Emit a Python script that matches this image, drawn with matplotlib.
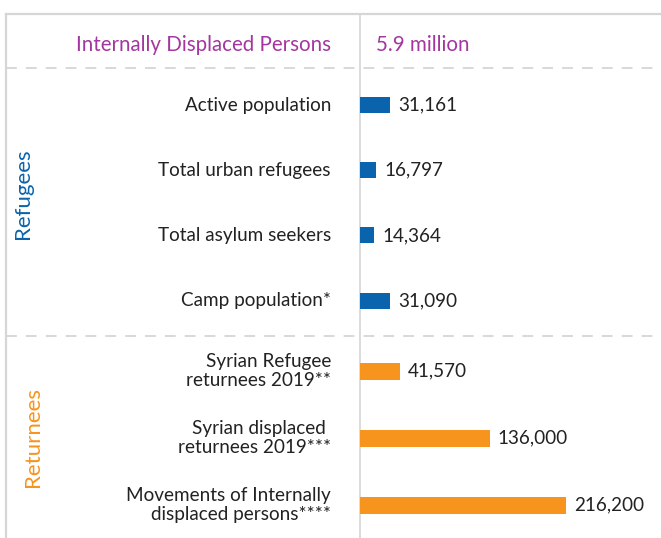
import matplotlib.pyplot as plt

# data
refugee_labels = ['Active population', 'Total urban refugees',
                  'Total asylum seekers', 'Camp population*']
refugee_values = [31161, 16797, 14364, 31090]
returnee_labels = ['Syrian Refugee\nreturnees 2019**',
                   'Syrian displaced \nreturnees 2019***',
                   'Movements of Internally\ndisplaced persons****']
returnee_values = [41570, 136000, 216200]
header_label = 'Internally Displaced Persons'
header_value = '5.9 million'

BLUE = '#0a64ad'
ORANGE = '#f7941d'
PURPLE = '#a3369f'
GRID = '#d6d6d6'
TEXT = '#222222'

W, H = 661, 538
SPLIT = 360

plt.rcParams['font.family'] = ['Lato', 'DejaVu Sans']

fig = plt.figure(figsize=(W / 100, H / 100), dpi=100)

# frame axes in pixel units
frame = fig.add_axes([0, 0, 1, 1])
frame.set_xlim(0, W)
frame.set_ylim(H, 0)
frame.axis('off')

frame.plot([6, W], [14, 14], color=GRID, lw=1.6)
frame.plot([6, 6], [14, H], color=GRID, lw=1.6)
frame.plot([SPLIT, SPLIT], [14, H], color=GRID, lw=1.2)
for yy in (68, 336):
    frame.plot([6, W], [yy, yy], color=GRID, lw=1.3, dashes=(6, 5))

frame.text(331, 43, header_label, ha='right', va='center_baseline',
           color=PURPLE, fontsize=14.8)
frame.text(376, 43, header_value, ha='left', va='center_baseline',
           color=PURPLE, fontsize=14.8)
frame.text(23, 194, 'Refugees', rotation=90, ha='center', va='center',
           color=BLUE, fontsize=16)
frame.text(33, 437, 'Returnees', rotation=90, ha='center', va='center',
           color=ORANGE, fontsize=16)

# bar axes, zero at the vertical split
ax = fig.add_axes([SPLIT / W, 0, 1 - SPLIT / W, 1])
ax.set_ylim(H, 0)
ax.set_xlim(0, 316000)
ax.axis('off')

ref_y = [105 + 65.2 * i for i in range(len(refugee_values))]
ret_y = [371 + 67 * i for i in range(len(returnee_values))]

ax.barh(ref_y, refugee_values, height=16, color=BLUE)
ax.barh(ret_y, returnee_values, height=17, color=ORANGE)

for y, lab, val in zip(ref_y + ret_y, refugee_labels + returnee_labels,
                       refugee_values + returnee_values):
    frame.text(331, y, lab, ha='right', va='center', color=TEXT,
               fontsize=13.6, linespacing=1.2)
    ax.annotate(f'{val:,}', (val, y), xytext=(6, 0),
                textcoords='offset points', ha='left',
                va='center', color=TEXT, fontsize=13.6)

fig.savefig('out.png', dpi=100)
